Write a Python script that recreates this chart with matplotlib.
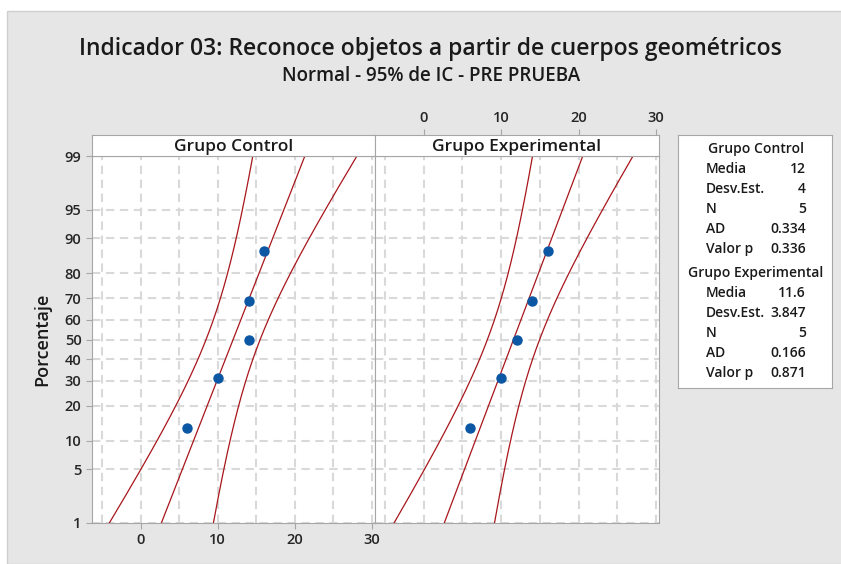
import matplotlib
matplotlib.use("Agg")
import numpy as np
import matplotlib.pyplot as plt
from matplotlib.patches import Rectangle
from statistics import NormalDist

plt.rcParams['font.family'] = ['Open Sans', 'DejaVu Sans']

# datos de los dos grupos
control = [6, 10, 14, 14, 16]
experimental = [6, 10, 12, 14, 16]
groups = ["Grupo Control", "Grupo Experimental"]
stats_labels = ["Media", "Desv.Est.", "N", "AD", "Valor p"]
stats_control = ["12", "4", "5", "0.334", "0.336"]
stats_exp = ["11.6", "3.847", "5", "0.166", "0.871"]
pct_ticks = [1, 5, 10, 20, 30, 40, 50, 60, 70, 80, 90, 95, 99]
x_ticks = [0, 10, 20, 30]

nd = NormalDist()
W, H = 841, 564
bg = "#e6e6e6"
spine_c = "#a6a6a6"
grid_c = "#d9d9d9"
line_c = "#a8161c"
dot_c = "#0b57a4"
txt_c = "#1a1a1a"


def fwd(p):
    p = np.clip(np.asarray(p, dtype=float) / 100.0, 1e-9, 1 - 1e-9)
    return np.array([nd.inv_cdf(v) for v in p.ravel()]).reshape(p.shape)


def inv(z):
    z = np.asarray(z, dtype=float)
    return np.array([nd.cdf(v) * 100 for v in z.ravel()]).reshape(z.shape)


def box(l, t, r, b):
    return [l / W, 1 - b / H, (r - l) / W, (b - t) / H]


fig = plt.figure(figsize=(W / 100, H / 100), dpi=100, facecolor="white")
fig.patches.append(Rectangle((7 / W, 0), 1, 1 - 11 / H, transform=fig.transFigure,
                             facecolor=bg, edgecolor="#cfcfcf", lw=1, zorder=-10))

fig.text(0.512, 1 - 49 / H, "Indicador 03: Reconoce objetos a partir de cuerpos geométricos",
         ha="center", va="center", fontsize=16.5, fontweight="semibold", color=txt_c)
fig.text(0.512, 1 - 76 / H, "Normal - 95% de IC - PRE PRUEBA",
         ha="center", va="center", fontsize=13.5, fontweight="semibold", color=txt_c)

panels = [(92, 375), (375, 659)]
data = [control, experimental]
p_grid = np.linspace(1, 99, 200)
z_grid = fwd(p_grid)

for k, (l, r) in enumerate(panels):
    ax = fig.add_axes(box(l, 156, r, 523))
    vals = np.sort(np.array(data[k], dtype=float))
    n = len(vals)
    m = vals.mean()
    s = vals.std(ddof=1)
    pos = (np.arange(1, n + 1) - 0.3) / (n + 0.4) * 100

    # recta ajustada y bandas de confianza del 95 %
    fit = m + s * z_grid
    se = s * np.sqrt(1 / n + z_grid ** 2 / (2 * n))
    for yv in (fit, fit - 1.96 * se, fit + 1.96 * se):
        ax.plot(yv, p_grid, color=line_c, lw=0.9, zorder=3)
    ax.plot(vals, pos, "o", color=dot_c, ms=6.5, zorder=4)

    ax.set_yscale("function", functions=(fwd, inv))
    ax.set_ylim(1, 99)
    ax.set_xlim(-6.3, 30.4)
    ax.set_yticks(pct_ticks)
    ax.set_xticks(x_ticks)
    ax.set_xticks(np.arange(-5, 31, 5), minor=True)
    ax.grid(True, which="both", axis="x", color=grid_c, lw=1.5, ls=(0, (4, 2.7)))
    ax.grid(True, which="major", axis="y", color=grid_c, lw=1.5, ls=(0, (4, 2.7)))
    ax.tick_params(which="minor", length=0)
    ax.tick_params(colors=spine_c, labelcolor="#262626", labelsize=10.5, length=4)
    for lab in ax.get_xticklabels() + ax.get_yticklabels():
        lab.set_fontweight("semibold")
    for sp in ax.spines.values():
        sp.set_color(spine_c)
    if k == 0:
        ax.set_yticklabels([str(t) for t in pct_ticks])
        ax.set_ylabel("Porcentaje", fontsize=13, fontweight="semibold", color=txt_c,
                      labelpad=10)
    else:
        ax.tick_params(axis="y", left=False, labelleft=False)
        ax.tick_params(axis="x", bottom=False, labelbottom=False)

    strip = fig.add_axes(box(l, 135, r, 156))
    strip.set_xlim(ax.get_xlim())
    strip.set_yticks([])
    for sp in strip.spines.values():
        sp.set_color(spine_c)
    strip.text(0.5, 0.45, groups[k], transform=strip.transAxes, ha="center", va="center",
               fontsize=12.5, fontweight="semibold", color=txt_c)
    if k == 1:
        strip.set_xticks(x_ticks)
        strip.tick_params(axis="x", top=True, labeltop=True, bottom=False, labelbottom=False,
                          colors=spine_c, labelcolor="#262626", labelsize=10.5, length=4)
        for lab in strip.get_xticklabels():
            lab.set_fontweight("semibold")
    else:
        strip.set_xticks([])

# cuadro de estadísticos
leg = fig.add_axes(box(678, 135, 832, 388))
leg.set_xlim(678, 832)
leg.set_ylim(388, 135)
leg.set_xticks([])
leg.set_yticks([])
for sp in leg.spines.values():
    sp.set_color(spine_c)
for name, vals, y0 in [(groups[0], stats_control, 149), (groups[1], stats_exp, 273)]:
    leg.text(756, y0, name, ha="center", va="center", fontsize=10, fontweight="semibold",
             color=txt_c)
    for i, (lab, v) in enumerate(zip(stats_labels, vals)):
        yy = y0 + 20 * (i + 1)
        leg.text(706, yy, lab, ha="left", va="center", fontsize=10, fontweight="semibold",
                 color=txt_c)
        leg.text(806, yy, v, ha="right", va="center", fontsize=10, fontweight="semibold",
                 color=txt_c)

fig.savefig("out.png", dpi=100, facecolor="white")
